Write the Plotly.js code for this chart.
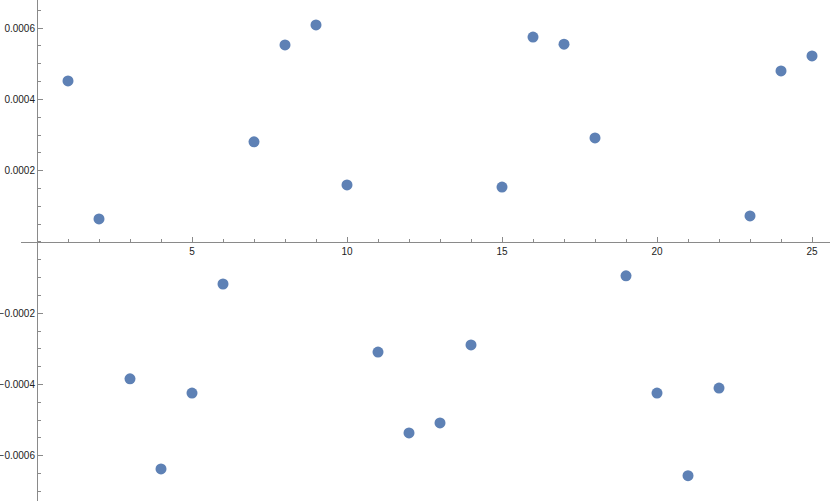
<!DOCTYPE html>
<html>
<head>
<meta charset="utf-8">
<script src="https://cdn.plot.ly/plotly-3.0.1.min.js"></script>
<style>
  html, body { margin: 0; padding: 0; background: #fff; }
  #chart { width: 830px; height: 501px; }
</style>
</head>
<body>
<div id="chart"></div>
<script>
// Values (index 1..25)
const xs = [1, 2, 3, 4, 5, 6, 7, 8, 9, 10, 11, 12, 13, 14, 15, 16, 17, 18, 19, 20, 21, 22, 23, 24, 25];
const ys = [0.000452, 0.0000645, -0.000384, -0.000637, -0.000424, -0.000118, 0.000281, 0.000553, 0.000609,
  0.00016, -0.000309, -0.000536, -0.000508, -0.000289, 0.000154, 0.000575, 0.000555, 0.000292,
  -0.000095, -0.000424, -0.000656, -0.00041, 0.000073, 0.00048, 0.000522];

const xTickVals = [5, 10, 15, 20, 25];
const yTickVals = [-0.0006, -0.0004, -0.0002, 0.0002, 0.0004, 0.0006];
const yTickText = ['\u22120.0006', '\u22120.0004', '\u22120.0002', '0.0002', '0.0004', '0.0006'];

const axisColor = '#8a8a8a';
const labelFont = { family: 'Liberation Sans, Arial, sans-serif', size: 10, color: '#222' };

const trace = {
  x: xs,
  y: ys,
  type: 'scatter',
  mode: 'markers',
  marker: { color: '#5E81B5', size: 11 },
  hoverinfo: 'x+y'
};

const layout = {
  width: 830,
  height: 501,
  margin: { l: 0, r: 0, t: 0, b: 0 },
  paper_bgcolor: '#fff',
  plot_bgcolor: '#fff',
  showlegend: false,
  xaxis: {
    domain: [21 / 830, 1],
    range: [-0.516, 25.58],
    anchor: 'free',
    position: 259 / 501,
    showgrid: false,
    zeroline: false,
    showline: true,
    linecolor: axisColor,
    linewidth: 1,
    ticks: 'inside',
    ticklen: 5,
    tickcolor: axisColor,
    tickvals: xTickVals,
    ticktext: xTickVals.map(String),
    tickfont: labelFont,
    minor: { dtick: 1, tick0: 0, ticks: 'inside', ticklen: 3, tickcolor: axisColor, showgrid: false }
  },
  yaxis: {
    range: [-0.000727, 0.000679],
    anchor: 'free',
    position: 37 / 830,
    showgrid: false,
    zeroline: false,
    showline: true,
    linecolor: axisColor,
    linewidth: 1,
    ticks: 'inside',
    ticklen: 5,
    tickcolor: axisColor,
    tickvals: yTickVals,
    ticktext: yTickText,
    tickfont: labelFont,
    minor: { dtick: 0.00005, tick0: 0, ticks: 'inside', ticklen: 3, tickcolor: axisColor, showgrid: false }
  }
};

Plotly.newPlot('chart', [trace], layout, { staticPlot: true, displayModeBar: false });
</script>
</body>
</html>
